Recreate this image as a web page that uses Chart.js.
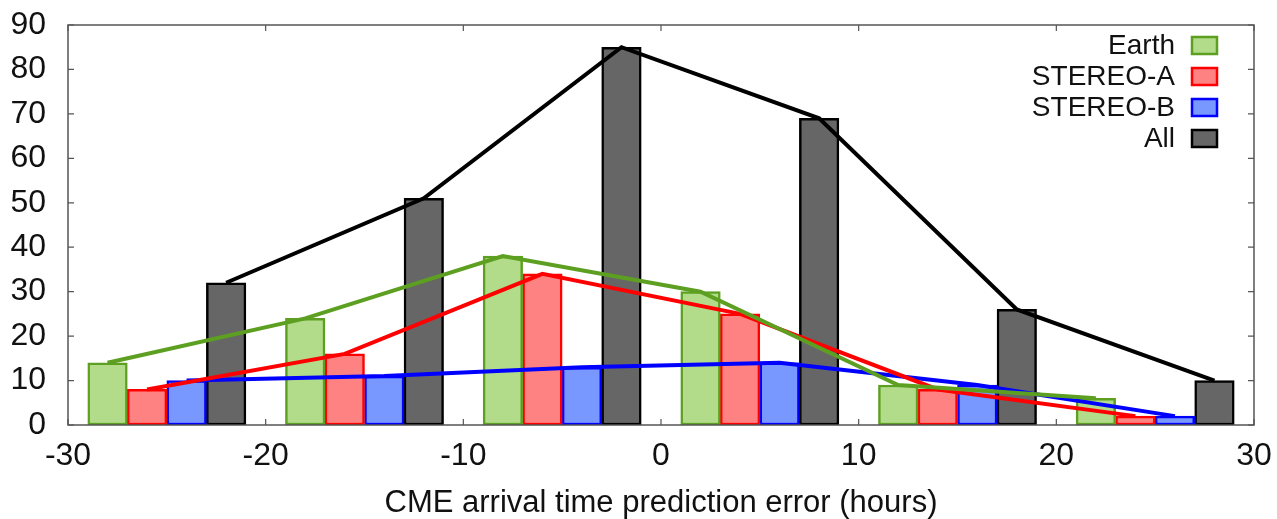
<!DOCTYPE html>
<html>
<head>
<meta charset="utf-8">
<script src="https://cdn.jsdelivr.net/npm/chart.js@4/dist/chart.umd.min.js"></script>
<style>
  html, body { margin: 0; padding: 0; background: #fff; }
  #wrap { width: 1277px; height: 519px; }
</style>
</head>
<body>
<div id="wrap"><canvas id="chart" width="1277" height="519"></canvas></div>
<script>
// bar positions (hours) for each series
const earthX = [-28, -18, -8, 2, 12, 22];
const stereoAX = [-26, -16, -6, 4, 14, 24];
const stereoBX = [-24, -14, -4, 6, 16, 26];
const allX = [-22, -12, -2, 8, 18, 28];

// counts
const earthVals = [14, 24, 38, 30, 9, 6];
const stereoAVals = [8, 16, 34, 25, 8, 2];
const stereoBVals = [10, 11, 13, 14, 9, 2];
const allVals = [32, 51, 85, 69, 26, 10];

const xTicks = [-30, -20, -10, 0, 10, 20, 30];
const yTicks = [0, 10, 20, 30, 40, 50, 60, 70, 80, 90];

const FONT = "'Liberation Sans', Arial, sans-serif";

const series = [
  { label: "Earth", xs: earthX, ys: earthVals, fill: "#b2dc8a", line: "#5da021" },
  { label: "STEREO-A", xs: stereoAX, ys: stereoAVals, fill: "#ff8282", line: "#ff0000" },
  { label: "STEREO-B", xs: stereoBX, ys: stereoBVals, fill: "#7897ff", line: "#0000ff" },
  { label: "All", xs: allX, ys: allVals, fill: "#666666", line: "#000000" },
];

function toPoints(xs, ys) {
  return xs.map((x, i) => ({ x: x, y: ys[i] }));
}

let datasets = [];
series.forEach(function (s) {
  datasets.push({
    type: "bar",
    label: s.label,
    data: toPoints(s.xs, s.ys),
    backgroundColor: s.fill,
    borderColor: s.line,
    borderWidth: 2.5,
    borderSkipped: false,
    grouped: false,
    categoryPercentage: 1,
    barPercentage: 1,
    order: 2,
  });
});
series.forEach(function (s) {
  datasets.push({
    type: "line",
    label: s.label + " line",
    data: toPoints(s.xs, s.ys),
    borderColor: s.line,
    borderWidth: 4,
    pointRadius: 0,
    fill: false,
    tension: 0,
    order: 1,
  });
});

// box around the plot with small inward ticks on all sides, plus legend
const frame = {
  id: "frame",
  afterDatasetsDraw(chart) {
    const ctx = chart.ctx;
    const a = chart.chartArea;
    const xs = chart.scales.x;
    const ys = chart.scales.y;
    ctx.save();
    ctx.strokeStyle = "#555";
    ctx.lineWidth = 1.5;
    ctx.strokeRect(a.left, a.top, a.right - a.left, a.bottom - a.top);
    ctx.lineWidth = 1.2;
    ctx.beginPath();
    xTicks.forEach((v) => {
      const p = xs.getPixelForValue(v);
      ctx.moveTo(p, a.bottom); ctx.lineTo(p, a.bottom - 6);
      ctx.moveTo(p, a.top); ctx.lineTo(p, a.top + 6);
    });
    yTicks.forEach((v) => {
      const p = ys.getPixelForValue(v);
      ctx.moveTo(a.left, p); ctx.lineTo(a.left + 6, p);
      ctx.moveTo(a.right, p); ctx.lineTo(a.right - 6, p);
    });
    ctx.stroke();

    // legend: text right aligned, swatch on the right
    ctx.font = "28px " + FONT;
    ctx.textAlign = "right";
    ctx.textBaseline = "middle";
    series.forEach((s, i) => {
      const cy = a.top + 20 + i * 31;
      ctx.fillStyle = "#111";
      ctx.fillText(s.label, a.right - 79, cy + 1);
      ctx.fillStyle = s.fill;
      ctx.strokeStyle = s.line;
      ctx.lineWidth = 2.5;
      ctx.fillRect(a.right - 62, cy - 8, 25, 17);
      ctx.strokeRect(a.right - 62, cy - 8, 25, 17);
    });
    ctx.restore();
  },
};

const ctx = document.getElementById("chart").getContext("2d");
new Chart(ctx, {
  data: { datasets: datasets },
  plugins: [frame],
  options: {
    responsive: false,
    animation: false,
    layout: { padding: { left: 0, top: 25, right: 23, bottom: 0 } },
    plugins: { legend: { display: false }, tooltip: { enabled: false } },
    scales: {
      x: {
        type: "linear",
        min: -30,
        max: 30,
        offset: false,
        afterBuildTicks: (s) => { s.ticks = xTicks.map((v) => ({ value: v })); },
        afterFit: (s) => { s.height = 94; s.paddingLeft = 0; s.paddingRight = 0; },
        grid: { display: false },
        border: { display: false },
        ticks: {
          padding: 4,
          color: "#111",
          font: { family: FONT, size: 32 },
        },
        title: {
          display: true,
          text: "CME arrival time prediction error (hours)",
          color: "#111",
          padding: { top: 0, bottom: -3 },
          font: { family: FONT, size: 31 },
        },
      },
      y: {
        min: 0,
        max: 90,
        afterBuildTicks: (s) => { s.ticks = yTicks.map((v) => ({ value: v })); },
        afterFit: (s) => { s.width = 68; s.paddingTop = 0; s.paddingBottom = 0; },
        grid: { display: false },
        border: { display: false },
        ticks: {
          padding: 14,
          color: "#111",
          font: { family: FONT, size: 32 },
        },
      },
    },
  },
});
</script>
</body>
</html>
